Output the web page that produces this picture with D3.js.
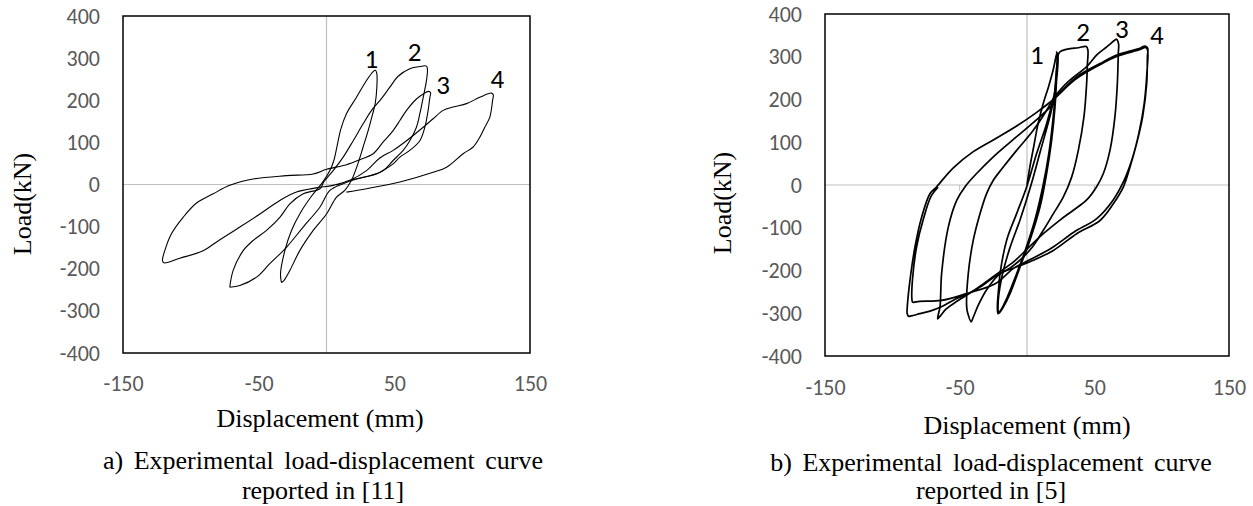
<!DOCTYPE html>
<html>
<head>
<meta charset="utf-8">
<script src="https://cdn.jsdelivr.net/npm/d3@7/dist/d3.min.js"></script>
<style>
  html, body { margin: 0; padding: 0; background: #fff; }
  svg { display: block; }
</style>
</head>
<body>
<svg id="chart" width="1253" height="506"></svg>
<script>
// ---------------- DATA ----------------
const xTicks = [-150, -50, 50, 150];
const yTicks = [-400, -300, -200, -100, 0, 100, 200, 300, 400];
const xTitle = "Displacement (mm)";
const yTitle = "Load(kN)";
const captionA = ["a) Experimental load-displacement curve", "reported in [11]"];
const captionB = ["b) Experimental load-displacement curve", "reported in [5]"];
const loopLabels = ["1", "2", "3", "4"];

// Left chart [11]: [displacement mm, load kN]
const leftLoop1 = [
  [-33.2,-233],[-33.9,-212],[-30.7,-157],[-25.8,-109],[-19.2,-67],[-11.1,-28],[-2.9,5],[2.5,33],[5.4,57],
  [7.9,93],[10.6,132],[14.7,168],[22.1,207],[29.5,247],[34.4,268],[36.1,271],
  [37.1,263],[37.1,231],[35.9,192],[33.4,160],[30.7,128],[27.0,89],[23.1,49],[18.4,10],[13.5,-14],
  [7.4,-30],[0,-70],[-9.8,-109],[-19.7,-157],[-27.0,-204],[-31.4,-228],[-33.2,-233]
];
const leftLoop2 = [
  [-71.3,-244],[-68.8,-204],[-61.4,-157],[-54.1,-133],[-44.2,-109],[-34.4,-78],[-27.0,-46],[-17.2,-22],
  [-4.9,-10],[-2.0,6],[4.9,33],[12.3,65],[19.7,104],[27.0,144],[33.2,176],[39.3,199],[46.7,231],
  [52.8,257],[61.4,275],[68.8,280],[73.7,281],
  [74.4,273],[73.7,247],[71.3,207],[68.8,168],[66.3,136],[61.4,104],[56.5,81],[49.1,57],[41.8,33],
  [31.9,21],[22.1,13],[12.3,2],[2.5,-14],[-4.9,-54],[-17.2,-101],[-29.5,-149],[-41.8,-188],
  [-51.6,-220],[-63.9,-240],[-71.3,-244]
];
const leftLoop34 = [
  [7.4,-2],[17.2,10],[27.0,17],[36.9,25],[43.0,36],[49.1,49],[54.1,65],[61.4,81],[68.8,104],[72.5,136],
  [74.9,176],[76.2,207],[76.7,218],[75.2,221],[71.3,215],[66.3,203],[59.0,176],[54.1,152],[49.1,128],
  [41.8,101],[34.4,73],[24.6,59],[14.7,47],[0,36],[-9.8,25],[-29.5,21],[-54.1,13],[-71.3,-2],
  [-83.5,-22],[-95.8,-44],[-105.7,-78],[-114.3,-117],[-119.2,-157],[-120.9,-180],[-119.7,-186],
  [-108.1,-175],[-90.9,-157],[-78.6,-131],[-63.9,-101],[-49.1,-70],[-34.4,-38],[-22.1,-18],[-7.4,-8],
  [4.9,-2],[17.2,10],[29.5,33],[39.3,63],[49.1,81],[59.0,104],[71.3,136],[78.6,156],[86.0,176],
  [93.4,184],[103.2,192],[113.0,207],[121.6,217],[122.9,213],[122.4,199],[120.4,160],[116.7,136],
  [113.0,112],[108.1,89],[100.7,73],[88.5,41],[78.6,29],[54.1,6],[29.5,-10],[14.7,-18]
];

// Right chart [5]: [displacement mm, load kN]
const rightLoop1 = [
  [0,0],[2,40],[5,90],[8,140],[12,190],[16,230],[19.5,270],[21.5,300],[22.3,309],
  [22.8,298],[22,250],[20.8,183],[18.3,105],[14.6,27],[9.7,-51],[2.2,-129],[-5.2,-192],[-12.6,-254],
  [-18,-288],[-20.5,-299],[-21.5,-301],
  [-22,-285],[-21,-240],[-20,-207],[-15.1,-129],[-7.7,-67],[-0.2,-4],[7.2,74],[14.6,144],[20.8,222],
  [22,270],[22.5,305],[22,311],
  [23,295],[21.5,230],[19.5,160],[16.5,80],[12,0],[6,-80],[-1,-150],[-8,-210],[-15,-265],[-19.5,-293],
  [-21,-297],[-21.5,-280],[-19,-220],[-13,-150],[-5,-80],[3,0],[10,80],[17,160],[20.5,210]
];
const rightLoop2 = [
  [20.5,210],[22.5,285],[24,310],[30,318],[38,321],[44,324],
  [45.2,316],[44.8,280],[44.3,238],[42.3,160],[38.1,81],[33.2,19],[27,-28],[19.6,-67],[12.1,-106],
  [4,-145],[-5,-175],[-13,-195],[-21,-210],[-30,-245],[-36,-280],[-40,-310],[-41.5,-320],
  [-44,-300],[-44.8,-285],[-43.6,-207],[-39.9,-129],[-34.9,-67],[-30,-20],[-25,11],[-17.6,42],
  [-7.7,81],[4.7,128],[14.6,175],[20.5,207]
];
const rightLoop3 = [
  [20.5,207],[30,240],[44.3,277],[52,305],[59.2,323],[65.3,339],[66.5,341],
  [68,330],[67.8,308],[67.1,238],[65.3,160],[61.6,81],[56.7,27],[51.7,-4],[44.3,-35],[34.4,-59],
  [24.5,-82],[12.1,-114],[0,-150],[-10,-180],[-21,-205],[-32,-230],[-42.3,-253],[-52,-272],
  [-60,-290],[-64,-305],[-66.3,-313],
  [-66,-305],[-64.6,-285],[-63.4,-207],[-58.4,-98],[-52.2,-36],[-46,-4],[-37.4,27],[-25,66],
  [-7.7,113],[9.7,160],[19.6,191],[21,205]
];
const rightLoop4 = [
  [21,205],[36.9,253],[54.2,284],[66.6,304],[75,312],[83.9,320],[87.6,325],
  [89.6,320],[89.4,300],[88.9,238],[85.9,160],[81.4,97],[76.5,42],[71.5,-5],[64.1,-44],[54.2,-83],
  [36.9,-114],[19.6,-153],[4.7,-176],[-8,-192],[-21,-208],[-33,-235],[-44.9,-256],[-55,-270],
  [-63.6,-285],[-72,-295],[-79.6,-301],[-86,-306],[-88,-307],
  [-89,-300],[-88.9,-285],[-86.9,-223],[-83.2,-145],[-78.2,-75],[-72,-20],[-67.1,-4],[-54.7,40],
  [-39.9,78],[-22.5,110],[-7.7,138],[7.2,170],[19.6,200],[36,247],[54,281],[67,301],[84,317],[88,322],
  [89.5,316],[89,260],[87,190],[83,120],[78,60],[72,10],[64,-35],[52,-78],[35,-110],[18,-148],
  [2,-175],[-10,-195],[-23.6,-231],[-44.9,-254],[-63.6,-270],[-80,-272],[-84.9,-274],
  [-85.5,-265],[-85,-220],[-82,-145],[-77,-80],[-71,-25],[-66,-5]
];

// label anchors [mm, kN] for loop numbers
const leftLabelPos = [[33,297],[65,315],[86,235],[126,250]];
const rightLabelPos = [[7.4,303],[41.6,357],[70.5,365],[96.5,351]];

// ---------------- DRAW ----------------
const svg = d3.select("#chart");
const SERIF = '"Liberation Serif"';
const SANS = '"Carlito"';

function drawPanel(cfg) {
  const x = d3.scaleLinear().domain([-150, 150]).range([cfg.left, cfg.right]);
  const y = d3.scaleLinear().domain([-400, 400]).range([cfg.bottom, cfg.top]);
  const g = svg.append("g");

  // zero lines
  g.append("line").attr("x1", x(0)).attr("x2", x(0)).attr("y1", cfg.top).attr("y2", cfg.bottom)
    .attr("stroke", "#bfbfbf").attr("stroke-width", 1.2);
  g.append("line").attr("x1", cfg.left).attr("x2", cfg.right).attr("y1", y(0)).attr("y2", y(0))
    .attr("stroke", "#bfbfbf").attr("stroke-width", 1.2);

  if (cfg.zeroTicks) {
    g.selectAll("line.zt").data([-50, 50]).enter().append("line")
      .attr("x1", d => x(d)).attr("x2", d => x(d))
      .attr("y1", y(0)).attr("y2", y(0) + 6)
      .attr("stroke", "#bfbfbf").attr("stroke-width", 1);
  }

  // curves
  const line = d3.line().x(d => x(d[0])).y(d => y(d[1])).curve(d3.curveCatmullRom.alpha(0.5));
  cfg.loops.forEach(L => {
    g.append("path").attr("d", line(L)).attr("fill", "none")
      .attr("stroke", "#000").attr("stroke-width", cfg.lw).attr("stroke-linejoin", "round");
  });

  // border
  g.append("rect").attr("x", cfg.left).attr("y", cfg.top)
    .attr("width", cfg.right - cfg.left).attr("height", cfg.bottom - cfg.top)
    .attr("fill", "none").attr("stroke", "#000").attr("stroke-width", 1.5);

  // axes
  const ya = g.append("g").attr("transform", `translate(${cfg.left},0)`)
    .call(d3.axisLeft(y).tickValues(yTicks).tickSize(0).tickPadding(23).tickFormat(d => String(d)));
  const xa = g.append("g").attr("transform", `translate(0,${cfg.bottom})`)
    .call(d3.axisBottom(x).tickValues(xTicks).tickSize(0).tickPadding(cfg.xPad).tickFormat(d => String(d)));
  [ya, xa].forEach(a => {
    a.select(".domain").remove();
    a.attr("font-family", null).attr("font-size", null);
    a.selectAll("text").style("font-family", SANS)
      .style("font-size", "22px").attr("fill", "#595959");
  });

  // loop labels
  g.selectAll("text.lbl").data(loopLabels).enter().append("text")
    .attr("x", (d, i) => x(cfg.labelPos[i][0])).attr("y", (d, i) => y(cfg.labelPos[i][1]))
    .attr("text-anchor", "middle").attr("dy", "0.33em")
    .style("font-family", SANS).style("font-size", "27px").attr("fill", "#000")
    .text(d => d);

  // titles
  g.append("text").attr("x", cfg.xTitleX).attr("y", cfg.xTitleY).attr("dy", "0.35em")
    .attr("text-anchor", "middle").style("font-family", SERIF).style("font-size", "26px").text(xTitle);
  g.append("text").attr("transform", `translate(${cfg.yTitleX},${cfg.yTitleY}) rotate(-90)`)
    .attr("dy", "0.35em").attr("text-anchor", "middle").style("font-family", SERIF)
    .style("font-size", "26px").text(yTitle);
  cfg.caption.forEach((c, i) => {
    g.append("text").attr("x", cfg.capX).attr("y", cfg.capY[i]).attr("dy", "0.35em")
      .attr("text-anchor", "middle").style("font-family", SERIF).style("font-size", "26px")
      .style("word-spacing", i === 0 ? "4px" : "0px").text(c);
  });
}

drawPanel({
  left: 123, right: 530, top: 16, bottom: 353, lw: 1.1, xPad: 22, zeroTicks: false,
  loops: [leftLoop1, leftLoop2, leftLoop34], labelPos: leftLabelPos,
  xTitleX: 320, xTitleY: 418, yTitleX: 22, yTitleY: 204,
  caption: captionA, capX: 323, capY: [460, 490]
});
drawPanel({
  left: 825, right: 1229, top: 14, bottom: 356, lw: 1.7, xPad: 23, zeroTicks: true,
  loops: [rightLoop1, rightLoop2, rightLoop3, rightLoop4], labelPos: rightLabelPos,
  xTitleX: 1027, xTitleY: 425, yTitleX: 722, yTitleY: 203,
  caption: captionB, capX: 991, capY: [462, 490]
});
</script>
</body>
</html>
